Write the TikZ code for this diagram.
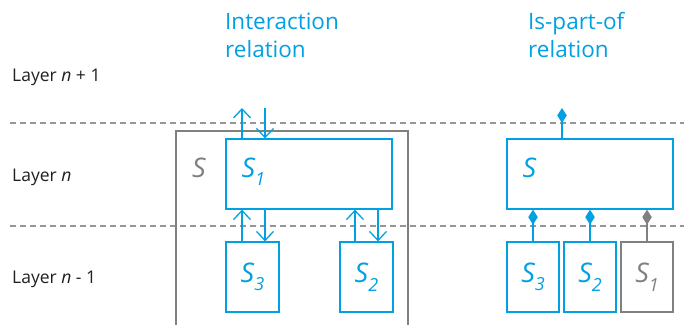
\documentclass[tikz,border=0pt]{standalone}
\usepackage{fontspec}
\setmainfont{Open Sans}
\usepackage{xcolor}
\usepackage{tikz}
\usetikzlibrary{arrows.meta}
\definecolor{scheme}{RGB}{0,160,227}
\definecolor{frame}{RGB}{128,128,128}
\definecolor{layerline}{RGB}{150,150,150}
\definecolor{ink}{RGB}{35,31,32}
\newcommand{\sname}[1]{\fontsize{27}{27}\selectfont\itshape S\raisebox{-8.5pt}{\fontsize{18}{18}\selectfont #1}}

\begin{document}
\begin{tikzpicture}[x=1pt,y=-1pt,
	sbox/.style={draw=scheme,line width=1.3pt,inner sep=0pt,minimum width=53pt,minimum height=70pt,text=scheme},
	wbox/.style={sbox,minimum width=166pt},
	gbox/.style={sbox,draw=frame,text=frame},
	layer/.style={anchor=base west,inner sep=0pt,text=ink,font=\fontsize{17.5}{17.5}\selectfont},
	title/.style={anchor=north west,inner sep=0pt,align=left,text=scheme,font=\fontsize{22.5}{28}\selectfont},
	flow/.style={draw=scheme,line width=1.3pt,-{Straight Barb[length=9pt,width=17pt]}},
	part/.style={draw=scheme,line width=1.3pt,-{Diamond[length=15pt,width=9.5pt]}},
	gpart/.style={part,draw=frame,fill=frame}]
	\useasboundingbox (0,0) rectangle (684,324);
	\coordinate (l1) at (10,123);
	\coordinate (l2) at (10,226);
	\coordinate (o1) at (242,108);
	\coordinate (o2) at (265,108);
	\coordinate (o3) at (562,108);
	
	% layers
	\draw[layerline,line width=1.3pt,dash pattern=on 6pt off 4pt] (l1) -- (684,123);
	\draw[layerline,line width=1.3pt,dash pattern=on 6pt off 4pt] (l2) -- (684,226);
	\node[layer] (ln1) at (12,81.5) {Layer \textit{n} + 1};
	\node[layer] (ln) at (12,181.5) {Layer \textit{n}};
	\node[layer] (ln0) at (12,283) {Layer \textit{n} - 1};
	
	\node[title] (inter) at (225,13) {Interaction\\relation};
	\node[title] (ispart) at (528,12) {Is-part-of\\relation};
	
	% interaction relation
	\draw[frame,line width=1.5pt] (176,330) |- (408,131) -- (408,330);
	\node[anchor=base west,inner sep=0pt,text=frame,font=\fontsize{27}{27}\selectfont\itshape] (sg) at (192,177) {S};
	
	\node[wbox] (s1) at (309,174) {};
	\node[anchor=base west,inner sep=0pt,text=scheme] (s1t) at ([xshift=16pt,yshift=-3pt]s1.west) {\sname{1}};
	\node[sbox] (s3) at (252.5,277) {\sname{3}};
	\node[sbox] (s2) at (366.5,277) {\sname{2}};
	
	\draw[flow] (o1 |- s1.north) -- (o1);
	\draw[flow] (o2) -- (o2 |- s1.north);
	\draw[flow] ([xshift=-10.5pt]s3.north) -- ([xshift=-10.5pt]s3.north |- s1.south);
	\draw[flow] ([xshift=12.5pt]s3.north |- s1.south) -- ([xshift=12.5pt]s3.north);
	\draw[flow] ([xshift=-11.5pt]s2.north) -- ([xshift=-11.5pt]s2.north |- s1.south);
	\draw[flow] ([xshift=11.5pt]s2.north |- s1.south) -- ([xshift=11.5pt]s2.north);
	
	% is-part-of relation
	\node[wbox] (sp) at (590,174) {};
	\node[anchor=base west,inner sep=0pt,text=scheme,font=\fontsize{27}{27}\selectfont\itshape] (spt) at ([xshift=16pt,yshift=-3pt]sp.west) {S};
	\node[sbox,minimum width=52pt] (p3) at (533,277) {\sname{3}};
	\node[sbox,minimum width=52pt] (p2) at (590,277) {\sname{2}};
	\node[gbox,minimum width=52pt] (p1) at (647,277) {\sname{1}};
	
	\draw[part,fill=scheme] (o3 |- sp.north) -- (o3);
	\draw[part,fill=scheme] (p3.north) -- (p3.north |- sp.south);
	\draw[part,fill=scheme] (p2.north) -- (p2.north |- sp.south);
	\draw[gpart] (p1.north) -- (p1.north |- sp.south);
\end{tikzpicture}
\end{document}
